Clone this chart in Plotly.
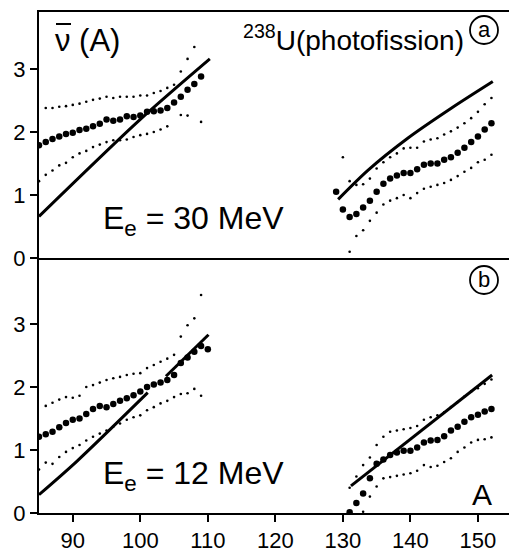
import plotly.graph_objects as go

# ---------------- data ----------------
# panel (a): E_e = 30 MeV
a_left_A = list(range(85, 110))
a_left_nu = [1.79, 1.84, 1.89, 1.93, 1.97, 1.99, 2.03, 2.05, 2.09, 2.13, 2.20, 2.18, 2.20,
             2.25, 2.24, 2.26, 2.32, 2.33, 2.34, 2.38, 2.47, 2.56, 2.67, 2.76, 2.88]
a_left_up_A = list(range(86, 109))
a_left_up = [2.38, 2.38, 2.40, 2.41, 2.43, 2.45, 2.48, 2.51, 2.53, 2.56, 2.54, 2.56, 2.56,
             2.56, 2.58, 2.58, 2.62, 2.65, 2.70, 2.75, 2.96, 3.16, 3.35]
a_left_lo_A = [85, 86, 87, 88, 89, 90, 91, 92, 93, 94, 95, 96, 97, 98, 99, 100, 101, 102,
               103, 104, 106, 107, 109]
a_left_lo = [1.22, 1.32, 1.39, 1.47, 1.51, 1.60, 1.66, 1.70, 1.76, 1.80, 1.84, 1.87, 1.87,
             1.88, 1.92, 1.95, 1.97, 2.00, 2.04, 2.09, 2.27, 2.26, 2.16]
a_left_fit_A = [85, 100, 110.3]
a_left_fit = [0.66, 2.20, 3.16]

a_right_A = list(range(129, 153))
a_right_nu = [1.05, 0.77, 0.65, 0.70, 0.80, 0.91, 1.05, 1.18, 1.26, 1.31, 1.35, 1.35, 1.41,
              1.48, 1.50, 1.50, 1.56, 1.60, 1.67, 1.75, 1.84, 1.93, 2.04, 2.14]
a_right_up_A = list(range(130, 153))
a_right_up = [1.60, 1.22, 1.16, 1.17, 1.26, 1.42, 1.52, 1.60, 1.66, 1.74, 1.75, 1.75, 1.85,
              1.88, 1.90, 1.96, 2.01, 2.07, 2.14, 2.22, 2.32, 2.44, 2.54]
a_right_lo_A = list(range(131, 153))
a_right_lo = [0.10, 0.35, 0.44, 0.59, 0.72, 0.85, 0.91, 0.95, 1.00, 0.95, 1.03, 1.10, 1.13,
              1.16, 1.19, 1.24, 1.30, 1.37, 1.43, 1.52, 1.56, 1.64]
a_right_fit_A = [129.3, 133.7, 139.6, 146.1, 152.2]
a_right_fit = [0.93, 1.39, 1.90, 2.38, 2.80]

# panel (b): E_e = 12 MeV
b_left_A = list(range(85, 111))
b_left_nu = [1.21, 1.25, 1.29, 1.36, 1.43, 1.48, 1.50, 1.57, 1.65, 1.70, 1.68, 1.73, 1.78,
             1.82, 1.87, 1.93, 2.00, 2.04, 2.07, 2.11, 2.19, 2.38, 2.47, 2.56, 2.65, 2.60]
b_left_up_A = list(range(86, 110))
b_left_up = [1.70, 1.75, 1.80, 1.84, 1.83, 1.86, 2.00, 2.03, 2.07, 2.11, 2.14, 2.16, 2.19,
             2.21, 2.22, 2.30, 2.35, 2.40, 2.45, 2.51, 2.80, 2.98, 3.09, 3.46]
b_left_lo_A = list(range(85, 110))
b_left_lo = [0.69, 0.80, 0.78, 0.89, 0.97, 1.03, 1.08, 1.15, 1.21, 1.26, 1.31, 1.37, 1.42,
             1.48, 1.52, 1.55, 1.63, 1.68, 1.74, 1.78, 1.84, 1.89, 1.90, 1.97, 1.86]
b_left_fit_A = [85, 90.6, 101.1, None, 103.8, 110.1]
b_left_fit = [0.29, 0.82, 1.91, None, 2.17, 2.83]

b_right_A = list(range(131, 153))
b_right_nu = [0.01, 0.16, 0.31, 0.55, 0.78, 0.85, 0.92, 0.96, 0.99, 0.99, 1.04, 1.12, 1.15,
              1.16, 1.22, 1.31, 1.37, 1.45, 1.52, 1.56, 1.61, 1.65]
b_right_up_A = list(range(131, 153))
b_right_up = [0.40, 0.58, 0.76, 0.88, 1.08, 1.21, 1.29, 1.31, 1.33, 1.35, 1.38, 1.48, 1.52,
              1.55, 1.60, 1.68, 1.76, 1.85, 1.93, 1.98, 2.05, 2.12]
b_right_lo_A = list(range(133, 153))
b_right_lo = [0.02, 0.26, 0.42, 0.55, 0.57, 0.59, 0.61, 0.63, 0.67, 0.76, 0.73, 0.75, 0.81,
              0.87, 0.97, 1.04, 1.12, 1.16, 1.17, 1.20]
b_right_fit_A = [131.2, 152.1]
b_right_fit = [0.43, 2.19]

x_ticks = [90, 100, 110, 120, 130, 140, 150]
y_ticks = [0, 1, 2, 3]

# ---------------- figure ----------------
W, H = 509, 552
L, R, T, B = 39, 0, 12, 39
FONT = "Liberation Sans, Arial, sans-serif"


def px(x):
    return (x - L) / (W - L - R)


def py(y):
    return (H - B - y) / (H - T - B)


split = py(258)

fig = go.Figure()


def big(xs, ys, xa, ya):
    fig.add_trace(go.Scatter(x=xs, y=ys, mode="markers", xaxis=xa, yaxis=ya,
                             marker=dict(size=6.5, color="black"), showlegend=False,
                             hoverinfo="skip"))


def small(xs, ys, xa, ya):
    fig.add_trace(go.Scatter(x=xs, y=ys, mode="markers", xaxis=xa, yaxis=ya,
                             marker=dict(size=2.6, color="black"), showlegend=False,
                             hoverinfo="skip"))


def fit(xs, ys, xa, ya):
    fig.add_trace(go.Scatter(x=xs, y=ys, mode="lines", xaxis=xa, yaxis=ya,
                             line=dict(color="black", width=3, shape="spline",
                                       smoothing=0.8),
                             connectgaps=False, showlegend=False, hoverinfo="skip"))


for xa, ya, groups in [
    ("x", "y", [(a_left_A, a_left_nu, a_left_up_A, a_left_up, a_left_lo_A, a_left_lo,
                 a_left_fit_A, a_left_fit),
                (a_right_A, a_right_nu, a_right_up_A, a_right_up, a_right_lo_A, a_right_lo,
                 a_right_fit_A, a_right_fit)]),
    ("x2", "y2", [(b_left_A, b_left_nu, b_left_up_A, b_left_up, b_left_lo_A, b_left_lo,
                   b_left_fit_A, b_left_fit),
                  (b_right_A, b_right_nu, b_right_up_A, b_right_up, b_right_lo_A, b_right_lo,
                   b_right_fit_A, b_right_fit)]),
]:
    for (A, nu, Au, up, Al, lo, Af, f) in groups:
        small(Au, up, xa, ya)
        small(Al, lo, xa, ya)
        fit(Af, f, xa, ya)
        big(A, nu, xa, ya)

axis_common = dict(showgrid=False, zeroline=False, showline=True, linecolor="black",
                   linewidth=2, tickfont=dict(family=FONT, size=22, color="black"),
                   tickcolor="black", tickwidth=1.5, ticklen=7)

fig.update_layout(
    width=W, height=H,
    margin=dict(l=L, r=R, t=T, b=B),
    paper_bgcolor="white", plot_bgcolor="white",
    xaxis=dict(domain=[0, 1], range=[85, 154.6], anchor="y", mirror=True, ticks="",
               showticklabels=False, **axis_common),
    yaxis=dict(domain=[split, 1], range=[0, (258 - T) / 63.0], anchor="x",
               tickvals=y_ticks, ticks="outside", **axis_common),
    xaxis2=dict(domain=[0, 1], range=[85, 154.6], anchor="y2", tickvals=x_ticks,
                ticks="outside", **axis_common),
    yaxis2=dict(domain=[0, split], range=[0, (H - B - 258) / 63.0], anchor="x2",
                tickvals=y_ticks, ticks="outside", **axis_common),
)

ann = [
    dict(text="ν (A)", x=px(53), y=py(40), xanchor="left", yanchor="middle", size=31),
    dict(text="<sup>238</sup>U(photofission)", x=px(466), y=py(38), xanchor="right",
         yanchor="middle", size=28),
    dict(text="a", x=px(484), y=py(29), xanchor="center", yanchor="middle", size=22),
    dict(text="b", x=px(484), y=py(279), xanchor="center", yanchor="middle", size=22),
    dict(text="E<sub>e</sub> = 30 MeV", x=px(101), y=py(220), xanchor="left",
         yanchor="middle", size=32),
    dict(text="E<sub>e</sub> = 12 MeV", x=px(101), y=py(475), xanchor="left",
         yanchor="middle", size=32),
    dict(text="A", x=px(482), y=py(494), xanchor="center", yanchor="middle", size=30),
]
for a in ann:
    fig.add_annotation(text=a["text"], x=a["x"], y=a["y"], xref="paper", yref="paper",
                       xanchor=a["xanchor"], yanchor=a["yanchor"], showarrow=False,
                       font=dict(family=FONT, size=a["size"], color="black"))

# overline on the nu
fig.add_shape(type="line", xref="paper", yref="paper", x0=px(56), x1=px(71),
              y0=py(24), y1=py(24), line=dict(color="black", width=2))

for cx, cy, r in [(484, 30, 14), (484, 280, 14)]:
    fig.add_shape(type="circle", xref="paper", yref="paper",
                  x0=px(cx - r), x1=px(cx + r), y0=py(cy + r), y1=py(cy - r),
                  line=dict(color="black", width=1.8))

fig.write_html("out.html")
